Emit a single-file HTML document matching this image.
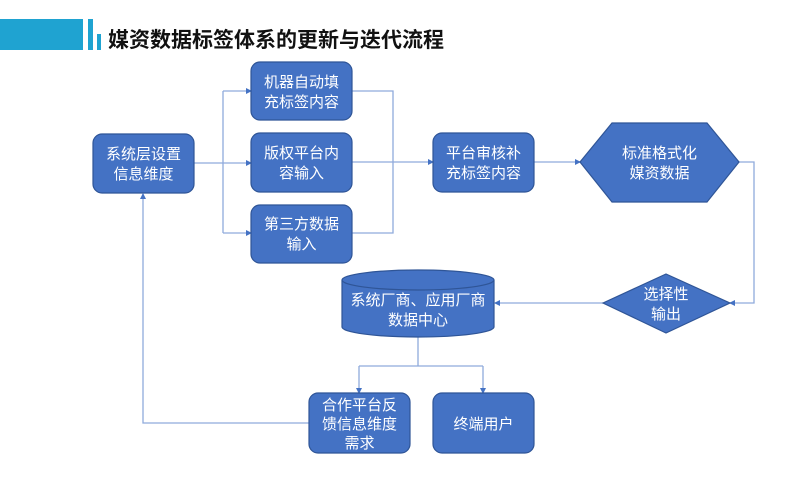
<!DOCTYPE html>
<html><head><meta charset="utf-8"><style>
html,body{margin:0;padding:0;background:#fff;}
svg{display:block;}
text{font-family:"Liberation Sans","Noto Sans CJK SC",sans-serif;}
.t{fill:#fff;font-size:15px;text-anchor:middle;}
.n{fill:#4472C4;stroke:#2F5597;stroke-width:1.2;}
.l{fill:none;stroke:#8FAADC;stroke-width:1.3;}
</style></head><body>
<svg width="800" height="500" viewBox="0 0 800 500" xmlns="http://www.w3.org/2000/svg">
<defs>
<marker id="a" markerWidth="6" markerHeight="6" refX="5" refY="3" orient="auto" markerUnits="userSpaceOnUse">
<path d="M0,0 L6,3 L0,6 z" fill="#4472C4"/>
</marker>
</defs>
<!-- header -->
<rect x="0" y="19" width="83" height="31" fill="#1FA3D1"/>
<rect x="88" y="19" width="5" height="31" fill="#1FA3D1"/>
<rect x="97" y="34" width="4" height="16" fill="#1FA3D1"/>
<text x="108" y="47" font-size="21" font-weight="bold" fill="#111">媒资数据标签体系的更新与迭代流程</text>

<!-- connectors -->
<path class="l" d="M194,163 H223"/>
<path class="l" d="M223,91 V233"/>
<path class="l" d="M223,91 H251" marker-end="url(#a)"/>
<path class="l" d="M223,163 H251" marker-end="url(#a)"/>
<path class="l" d="M223,233 H251" marker-end="url(#a)"/>
<path class="l" d="M352,91 H393 V233 H352"/>
<path class="l" d="M352,162 H393"/>
<path class="l" d="M393,162 H433" marker-end="url(#a)"/>
<path class="l" d="M534,162 H580" marker-end="url(#a)"/>
<path class="l" d="M739,162 H754 V303 H730" marker-end="url(#a)"/>
<path class="l" d="M603,303 H495" marker-end="url(#a)"/>
<path class="l" d="M418,337 V366"/>
<path class="l" d="M359,366 H483"/>
<path class="l" d="M359,366 V393" marker-end="url(#a)"/>
<path class="l" d="M483,366 V393" marker-end="url(#a)"/>
<path class="l" d="M309,423 H143 V194" marker-end="url(#a)"/>

<!-- nodes -->
<rect class="n" x="93" y="134" width="101" height="59" rx="9"/>
<text class="t" x="143.5" y="159">系统层设置</text>
<text class="t" x="143.5" y="179">信息维度</text>

<rect class="n" x="251" y="62" width="101" height="58" rx="9"/>
<text class="t" x="301.5" y="87">机器自动填</text>
<text class="t" x="301.5" y="107">充标签内容</text>

<rect class="n" x="251" y="133" width="101" height="59" rx="9"/>
<text class="t" x="301.5" y="158">版权平台内</text>
<text class="t" x="301.5" y="178">容输入</text>

<rect class="n" x="251" y="205" width="101" height="58" rx="9"/>
<text class="t" x="301.5" y="229">第三方数据</text>
<text class="t" x="301.5" y="249">输入</text>

<rect class="n" x="433" y="133" width="101" height="59" rx="9"/>
<text class="t" x="483.5" y="158">平台审核补</text>
<text class="t" x="483.5" y="178">充标签内容</text>

<polygon class="n" points="580,162 612,123 707,123 739,162 707,202 612,202"/>
<text class="t" x="659.5" y="158">标准格式化</text>
<text class="t" x="659.5" y="178">媒资数据</text>

<polygon class="n" points="603,303 666,274 730,303 666,333"/>
<text class="t" x="666" y="299">选择性</text>
<text class="t" x="666" y="319">输出</text>

<path class="n" d="M342,280 V327 A76,10 0 0 0 494,327 V280 A76,10 0 0 0 342,280 Z"/>
<path class="n" d="M342,280 A76,10 0 0 0 494,280"/>
<text class="t" x="418" y="305">系统厂商、应用厂商</text>
<text class="t" x="418" y="325">数据中心</text>

<rect class="n" x="309" y="393" width="101" height="60" rx="9"/>
<text class="t" x="359.5" y="410">合作平台反</text>
<text class="t" x="359.5" y="429">馈信息维度</text>
<text class="t" x="359.5" y="448">需求</text>

<rect class="n" x="433" y="393" width="101" height="60" rx="9"/>
<text class="t" x="483.5" y="429">终端用户</text>
</svg>
</body></html>
